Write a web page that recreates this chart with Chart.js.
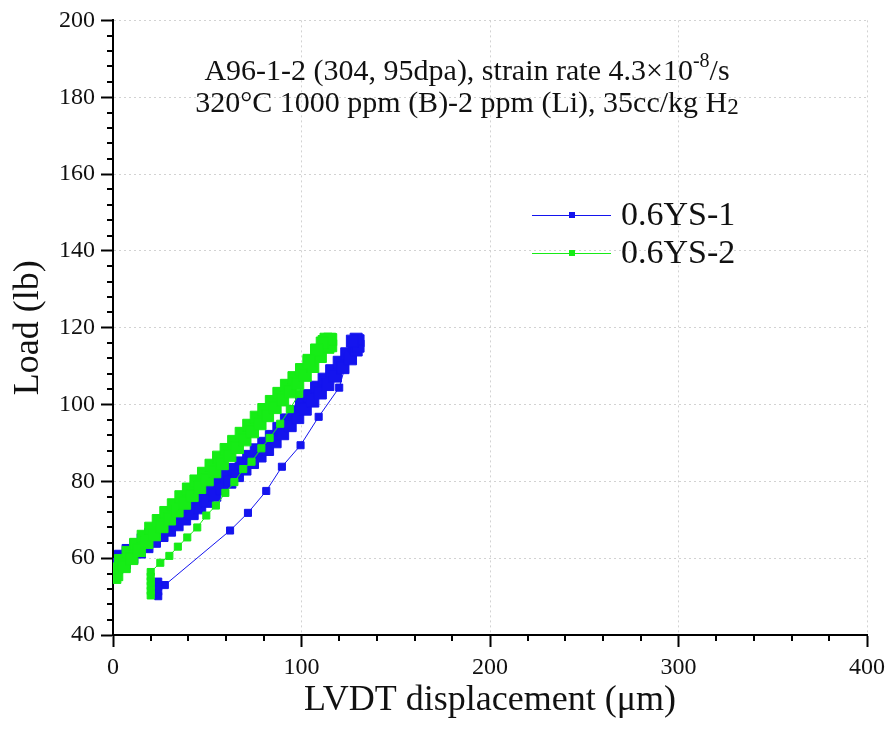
<!DOCTYPE html>
<html>
<head>
<meta charset="utf-8">
<script src="https://cdn.jsdelivr.net/npm/chart.js@4.4.1/dist/chart.umd.min.js"></script>
<style>
  html, body { margin: 0; padding: 0; background: #fff; }
  #wrap { width: 891px; height: 732px; }
</style>
</head>
<body>
<div id="wrap"><canvas id="chart"></canvas></div>
<script>
// 0.6YS-1: dense loading band (with hold at peak), then sparse unloading points
const bandDisp1 = [
  0, 2, 4, 6, 8, 10, 12, 14, 16, 18, 20, 22, 24, 26, 28, 30, 32, 34, 36, 38,
  40, 42, 44, 46, 48, 50, 52, 54, 56, 58, 60, 62, 64, 66, 68, 70, 72, 74, 76, 78,
  80, 82, 84, 86, 88, 90, 92, 94, 96, 98, 100, 102, 104, 106, 108, 110, 112, 114, 116, 118,
  120, 122, 124, 126, 128, 129, 130, 130, 129, 127
];
const bandLoad1 = [
  58.4, 57.6, 60.5, 58.8, 62.0, 60.2, 63.4, 61.6, 64.8, 63.0, 66.2, 64.4, 67.6, 65.9, 69.1, 67.3, 70.5, 68.7, 71.9, 70.2,
  73.4, 71.6, 74.8, 73.1, 76.4, 74.8, 78.1, 76.4, 79.8, 78.1, 81.4, 79.8, 83.1, 81.5, 84.8, 83.2, 86.5, 84.9, 88.2, 86.6,
  89.9, 88.3, 91.7, 90.3, 93.8, 92.4, 96.0, 94.5, 98.1, 96.6, 100.2, 98.8, 102.3, 100.9, 104.5, 103.0, 106.6, 105.2, 108.8, 107.4,
  111.0, 109.6, 113.2, 111.9, 115.3, 114.2, 116.6, 115.2, 117.0, 116.5
];
const dropDisp1 = [120, 109.1, 99.5, 89.6, 81.3, 71.6, 62.1, 27.5, 24, 24, 24, 24];
const dropLoad1 = [104.4, 96.8, 89.4, 83.8, 77.5, 71.8, 67.2, 53.0, 53.9, 52.6, 51.3, 50.1];

// 0.6YS-2
const bandDisp2 = [
  0, 1, 2, 4, 6, 8, 10, 12, 14, 16, 18, 20, 22, 24, 26, 28, 30, 32, 34, 36, 38,
  40, 42, 44, 46, 48, 50, 52, 54, 56, 58, 60, 62, 64, 66, 68, 70, 72, 74, 76, 78,
  80, 82, 84, 86, 88, 90, 92, 94, 96, 98, 100, 102, 104, 106, 108, 110, 112, 114, 115.5, 115.5,
  115, 113, 111, 108, 104
];
const bandLoad2 = [
  57.2, 55.0, 55.7, 59.4, 57.8, 61.5, 59.9, 63.6, 62.0, 65.7, 64.1, 67.8, 66.1, 69.8, 68.2, 71.9, 70.2, 73.9, 72.3, 76.0, 74.3,
  78.0, 76.3, 80.1, 78.4, 82.1, 80.4, 84.2, 82.5, 86.3, 84.6, 88.3, 86.7, 90.4, 88.8, 92.5, 90.8, 94.6, 92.9, 96.7, 95.0,
  98.7, 97.1, 100.8, 99.2, 102.9, 101.2, 105.0, 103.3, 107.0, 105.4, 109.1, 107.6, 111.5, 109.9, 113.8, 112.5, 116.4, 114.9, 116.9, 115.3,
  117.0, 117.0, 116.0, 114.2, 111.2
];
const dropDisp2 = [
  98.8, 93.8, 88.7, 83.1, 78.7, 73.5, 69.1, 64.4, 59.6, 54.6, 49.5, 44.7, 39.4, 34.4, 29.9, 25.1,
  20, 20, 20, 20, 20, 20
];
const dropLoad2 = [
  102.8, 98.8, 95.0, 91.3, 88.6, 85.1, 83.2, 79.8, 77.0, 73.7, 71.1, 68.0, 65.4, 63.0, 60.6, 58.8,
  56.4, 55.2, 54.0, 52.8, 51.5, 50.3
];

const seriesNames = ['0.6YS-1', '0.6YS-2'];
const seriesColors = ['#1414ee', '#16ec16'];
const noteLine1 = ['A96-1-2 (304, 95dpa), strain rate 4.3×10', '-8', '/s'];
const noteLine2 = ['320°C 1000 ppm (B)-2 ppm (Li), 35cc/kg H', '2'];

const SERIF = "'Liberation Serif', 'Times New Roman', serif";

const toPoints = (xs, ys) => xs.map((x, i) => ({ x, y: ys[i] }));

// minor ticks (every 20 um on x, every 4 lb on y)
const minorTicks = {
  id: 'minorTicks',
  afterDraw(chart) {
    const { ctx, scales: { x, y } } = chart;
    ctx.save();
    ctx.strokeStyle = '#000';
    ctx.lineWidth = 2;
    ctx.beginPath();
    for (let v = 20; v < 400; v += 20) {
      if (v % 100 === 0) continue;
      const px = Math.round(x.getPixelForValue(v));
      ctx.moveTo(px, y.bottom);
      ctx.lineTo(px, y.bottom + 6);
    }
    for (let v = 44; v < 200; v += 4) {
      if (v % 20 === 0) continue;
      const py = Math.round(y.getPixelForValue(v));
      ctx.moveTo(x.left, py);
      ctx.lineTo(x.left - 6, py);
    }
    ctx.stroke();
    ctx.restore();
  }
};

// note text and legend inside the plot
const notes = {
  id: 'notes',
  afterDraw(chart) {
    const { ctx } = chart;
    ctx.save();
    ctx.fillStyle = '#111';
    ctx.textBaseline = 'alphabetic';
    ctx.textAlign = 'left';

    const big = '30px ' + SERIF;
    const sup = '20px ' + SERIF;
    const sub = '23px ' + SERIF;
    const cx = 467;

    ctx.font = big;
    let w1 = ctx.measureText(noteLine1[0]).width + ctx.measureText(noteLine1[2]).width;
    ctx.font = sup;
    w1 += ctx.measureText(noteLine1[1]).width;
    let sx = cx - w1 / 2;
    ctx.font = big;
    ctx.fillText(noteLine1[0], sx, 80);
    sx += ctx.measureText(noteLine1[0]).width;
    ctx.font = sup;
    ctx.fillText(noteLine1[1], sx, 67);
    sx += ctx.measureText(noteLine1[1]).width;
    ctx.font = big;
    ctx.fillText(noteLine1[2], sx, 80);

    ctx.font = big;
    let w2 = ctx.measureText(noteLine2[0]).width;
    ctx.font = sub;
    w2 += ctx.measureText(noteLine2[1]).width;
    sx = cx - w2 / 2;
    ctx.font = big;
    ctx.fillText(noteLine2[0], sx, 112);
    sx += ctx.measureText(noteLine2[0]).width;
    ctx.font = sub;
    ctx.fillText(noteLine2[1], sx, 114);

    // legend
    chart.data.datasets.forEach((ds, i) => {
      const ly = 215 + i * 38;
      ctx.strokeStyle = ds.borderColor;
      ctx.lineWidth = 1;
      ctx.beginPath();
      ctx.moveTo(532, ly + 0.5);
      ctx.lineTo(611, ly + 0.5);
      ctx.stroke();
      ctx.fillStyle = ds.borderColor;
      ctx.fillRect(569, ly - 3, 6, 6);
      ctx.fillStyle = '#111';
      ctx.font = '34px ' + SERIF;
      ctx.textBaseline = 'middle';
      ctx.fillText(ds.label, 621, ly + 1);
      ctx.textBaseline = 'alphabetic';
    });
    ctx.restore();
  }
};

const makeSet = (label, color, bx, by, dx, dy, order) => ({
  label,
  data: toPoints(bx.concat(dx), by.concat(dy)),
  showLine: true,
  borderColor: color,
  backgroundColor: color,
  borderWidth: 1,
  pointStyle: 'rect',
  pointRadius: c => (c.dataIndex < bx.length ? 8.5 : 5),
  pointBorderWidth: 1,
  tension: 0,
  order
});

new Chart(document.getElementById('chart'), {
  type: 'scatter',
  data: {
    datasets: [
      makeSet(seriesNames[0], seriesColors[0], bandDisp1, bandLoad1, dropDisp1, dropLoad1, 2),
      makeSet(seriesNames[1], seriesColors[1], bandDisp2, bandLoad2, dropDisp2, dropLoad2, 1)
    ]
  },
  options: {
    responsive: true,
    maintainAspectRatio: false,
    animation: false,
    layout: { padding: { top: 20, right: 24, left: 0, bottom: 0 } },
    plugins: {
      legend: { display: false },
      tooltip: { enabled: false }
    },
    scales: {
      x: {
        min: 0,
        max: 400,
        afterFit: s => { s.height = 97; },
        ticks: {
          stepSize: 100,
          color: '#111',
          padding: 6,
          font: { family: SERIF, size: 24 }
        },
        grid: {
          color: '#d2d2d2',
          tickColor: '#000',
          tickLength: 12,
          tickWidth: 2
        },
        border: { color: '#000', width: 2, dash: [2, 3] },
        title: {
          display: true,
          text: 'LVDT displacement (μm)',
          color: '#111',
          font: { family: SERIF, size: 36 },
          padding: { top: 0, bottom: 10 }
        }
      },
      y: {
        min: 40,
        max: 200,
        afterFit: s => { s.width = 113; },
        ticks: {
          stepSize: 20,
          color: '#111',
          padding: 6,
          font: { family: SERIF, size: 24 }
        },
        grid: {
          color: '#d2d2d2',
          tickColor: '#000',
          tickLength: 12,
          tickWidth: 2
        },
        border: { color: '#000', width: 2, dash: [2, 3] },
        title: {
          display: true,
          text: 'Load (lb)',
          color: '#111',
          font: { family: SERIF, size: 36 },
          padding: { top: 7, bottom: 0 }
        }
      }
    }
  },
  plugins: [minorTicks, notes]
});
</script>
</body>
</html>
